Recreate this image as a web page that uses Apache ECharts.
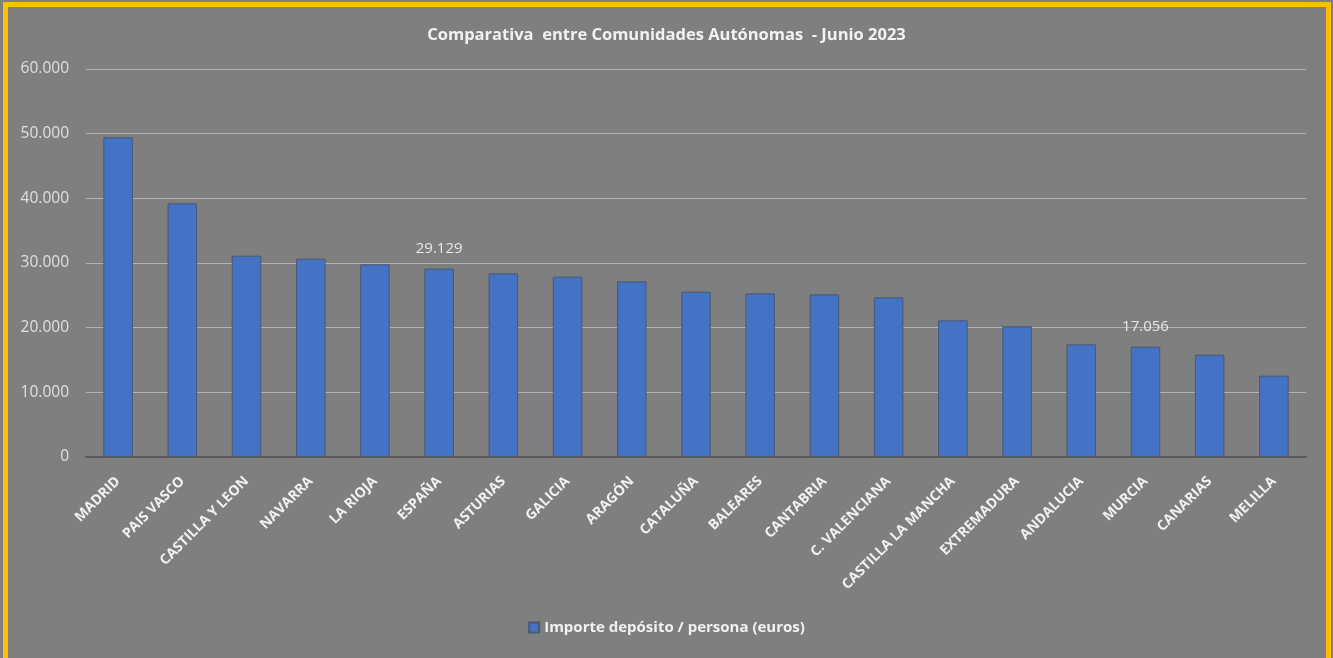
<!DOCTYPE html>
<html>
<head>
<meta charset="utf-8">
<script src="https://cdn.jsdelivr.net/npm/echarts@6/dist/echarts.min.js"></script>
<style>
  html, body { margin: 0; padding: 0; background: #7f7f7f; }
  #chart { position: absolute; left: 0; top: 0; width: 1333px; height: 658px; }
  #frame { position: absolute; left: 3px; top: 2px; width: 1318px; height: 660px;
           border: 5px solid #ffc000; pointer-events: none; }
</style>
</head>
<body>
<div id="chart"></div>
<div id="frame"></div>
<script>
// Deposit amount per person by autonomous community, June 2023 (euros)
const categories = [
  'MADRID', 'PAIS VASCO', 'CASTILLA Y LEON', 'NAVARRA', 'LA RIOJA', 'ESPAÑA',
  'ASTURIAS', 'GALICIA', 'ARAGÓN', 'CATALUÑA', 'BALEARES', 'CANTABRIA',
  'C. VALENCIANA', 'CASTILLA LA MANCHA', 'EXTREMADURA', 'ANDALUCIA', 'MURCIA',
  'CANARIAS', 'MELILLA'
];
const values = [
  49440, 39230, 31130, 30670, 29790, 29129,
  28400, 27890, 27160, 25570, 25310, 25150,
  24690, 21130, 20200, 17420, 17056,
  15820, 12580
];
const labeledCategories = ['ESPAÑA', 'MURCIA'];
const seriesName = 'Importe depósito / persona (euros)';
const chartTitle = 'Comparativa  entre Comunidades Autónomas  - Junio 2023';

// Spanish thousands separator
function fmt(v) {
  return String(Math.round(v)).replace(/\B(?=(\d{3})+(?!\d))/g, '.');
}

const chart = echarts.init(document.getElementById('chart'));
const font = '"Open Sans", "Noto Sans", sans-serif';

chart.setOption({
  backgroundColor: '#7f7f7f',
  animation: false,
  title: {
    text: chartTitle,
    left: 'center',
    top: 22,
    textStyle: { color: '#f2f2f2', fontSize: 16.5, fontWeight: 'bold', fontFamily: font }
  },
  legend: {
    bottom: 18,
    left: 'center',
    itemWidth: 10,
    itemHeight: 10,
    itemGap: 6,
    icon: 'rect',
    textStyle: { color: '#f2f2f2', fontSize: 15, fontWeight: 'bold', fontFamily: font },
    data: [seriesName]
  },
  grid: { left: 86, right: 27, top: 69, bottom: 201 },
  xAxis: {
    type: 'category',
    data: categories,
    axisLine: { lineStyle: { color: '#595959', width: 2 } },
    axisTick: { show: false },
    axisLabel: {
      rotate: 45,
      interval: 0,
      margin: 22,
      color: '#f2f2f2',
      fontSize: 14,
      fontWeight: 'bold',
      fontFamily: font
    }
  },
  yAxis: {
    type: 'value',
    min: 0,
    max: 60000,
    interval: 10000,
    axisLine: { show: false },
    axisTick: { show: false },
    splitLine: { lineStyle: { color: '#b3b3b3', width: 1 } },
    axisLabel: {
      color: '#e0e0e0',
      fontSize: 15.5,
      margin: 17,
      fontFamily: font,
      formatter: v => fmt(v)
    }
  },
  series: [{
    name: seriesName,
    type: 'bar',
    barWidth: '46%',
    itemStyle: { color: '#4472c4', borderColor: '#4a5870', borderWidth: 1 },
    data: values.map((v, i) => ({
      value: v,
      label: {
        show: labeledCategories.includes(categories[i]),
        position: 'top',
        distance: 12,
        color: '#e8e8e8',
        fontSize: 15,
        fontFamily: font,
        formatter: p => fmt(p.value)
      }
    }))
  }]
});
</script>
</body>
</html>
